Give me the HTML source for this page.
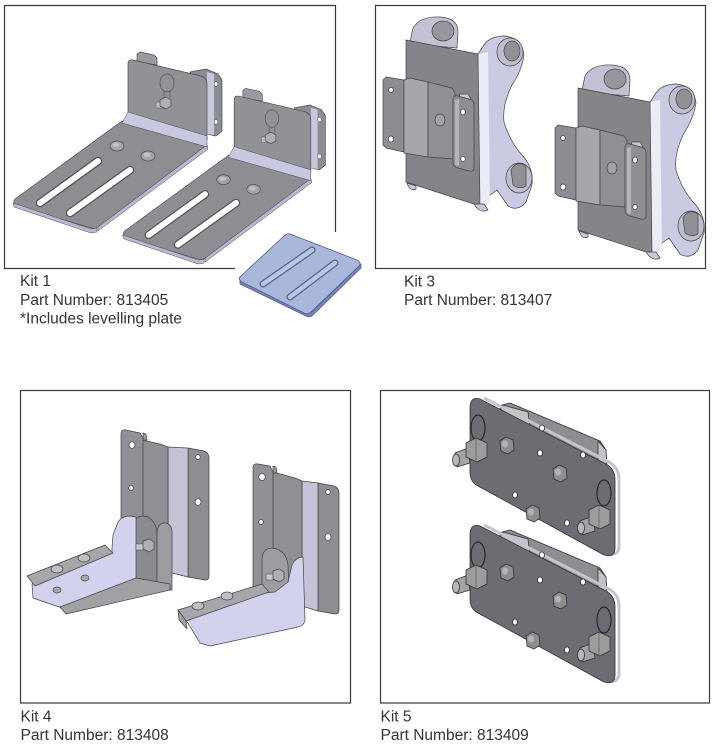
<!DOCTYPE html>
<html><head><meta charset="utf-8"><style>
html,body{margin:0;padding:0;background:#fff;}
svg{display:block;}
text{font-family:"Liberation Sans",Arial,sans-serif;font-size:15.5px;fill:#333;}
</style></head><body>
<svg width="715" height="750" viewBox="0 0 715 750" xmlns="http://www.w3.org/2000/svg">
<defs>
 <!-- Kit 1 bracket -->
 <g id="k1b" stroke="#4a4a55" stroke-width="0.7" stroke-linejoin="round">
  <path d="M190,72 L206,69 L218,74 L222,80 L222,131 L216,136 L207,134 Z" fill="#8c8c92"/>
  <path d="M207,72 L214,74 L214,135 L207,134 Z" fill="#c8c8dc" stroke="none"/>
  <ellipse cx="216" cy="84" rx="1.8" ry="2.3" fill="#fff" stroke-width=".5"/>
  <ellipse cx="216" cy="122" rx="1.8" ry="2.3" fill="#fff" stroke-width=".5"/>
  <path d="M137,62 L137,54 L140,52 L154,55 L157,58 L157,65 Z" fill="#9a9aa0"/>
  <path d="M128,116 L128,64 Q128,59 133,60 L201,76 Q207,78 207,84 L207,140 Z" fill="#919196"/>
  <path d="M15,199 L122,121 L207,145 L98,227 Q95,229 91,228 L17,206 Q12,203 15,199 Z" fill="#8d8d92"/>
  <path d="M13,203 L91,229 L97,228 L97,232 L91,233 L14,207 Z" fill="#b8b8d0" stroke-width=".5"/>
  <path d="M207,145 L98,227 L98,231 L208,149 Z" fill="#b8b8d0" stroke-width=".5"/>
  <path d="M128,112 L207,136 L207,147 L122,123 Z" fill="#c8c8e0" stroke-width=".5"/>
  <path d="M40,203 L98,161" stroke="#555" stroke-width="8.5" stroke-linecap="round"/>
  <path d="M40,203 L98,161" stroke="#fff" stroke-width="6" stroke-linecap="round"/>
  <path d="M70,213 L130,170" stroke="#555" stroke-width="8.5" stroke-linecap="round"/>
  <path d="M70,213 L130,170" stroke="#fff" stroke-width="6" stroke-linecap="round"/>
  <ellipse cx="117" cy="146" rx="7" ry="5" fill="#a4a4aa"/>
  <ellipse cx="116" cy="145" rx="3.5" ry="2.2" fill="#c0c0c8" stroke="none"/>
  <ellipse cx="148" cy="156" rx="7" ry="5" fill="#a4a4aa"/>
  <ellipse cx="147" cy="155" rx="3.5" ry="2.2" fill="#c0c0c8" stroke="none"/>
  <ellipse cx="167" cy="83" rx="7" ry="9" fill="none" stroke="#555"/>
  <path d="M164,92 L164,98 M170,92 L170,98" stroke="#555"/>
  <rect x="156" y="102" width="8" height="6" fill="#c0c0c4" stroke-width=".5"/>
  <path d="M160,100 L166,97 L171,100 L171,106 L166,109 L160,106 Z" fill="#b0b0b4"/>
 </g>
 <!-- Kit 3 bracket -->
 <g id="k3b" stroke="#444" stroke-width="0.7" stroke-linejoin="round">
  <path d="M410,42 L413,28 Q420,16 440,17 Q458,18 458,32 L457,48 L410,44 Z" fill="#c2c2d4"/>
  <ellipse cx="443" cy="31" rx="11" ry="10" fill="#96969c"/>
  <path d="M478,54 L484,45 Q490,36 505,36 Q522,38 524,55 Q522,70 512,85 Q502,105 504,122 Q510,142 522,155 Q534,168 532,185 L526,202 Q518,212 508,206 L497,190 L478,204 Z" fill="#cacae2"/>
  <path d="M478,54 L488,52 L490,204 L478,204 Z" fill="#ececf6" stroke="none"/>
  <ellipse cx="510" cy="52" rx="13" ry="14" fill="#bebece"/>
  <ellipse cx="512" cy="51" rx="8" ry="10" fill="#909096"/>
  <ellipse cx="519" cy="178" rx="13" ry="15" fill="#bebece"/>
  <path d="M511,170 Q516,160 526,166 L526,186 Q520,190 513,185 Z" fill="#909096"/>
  <path d="M406,40 L478,54 L480,206 L406,182 Z" fill="#848489"/>
  <path d="M407,183 Q410,192 416,189 L416,186 Z" fill="#c8c8dc"/>
  <path d="M474,204 Q480,214 488,210 L484,204 Z" fill="#c8c8dc"/>
  <path d="M383,80 L386,77 L404,80 L404,152 L386,148 L383,145 Z" fill="#8c8c92"/>
  <ellipse cx="391" cy="90" rx="2.3" ry="2.6" fill="#fff"/>
  <ellipse cx="391" cy="139" rx="2.8" ry="3" fill="#fff"/>
  <path d="M404,80 L410,78 L428,82 L428,157 L404,153 Z" fill="#a6a6ac"/>
  <path d="M428,82 L452,88 L455,93 L454,159 L428,157 Z" fill="#8f8f94"/>
  <ellipse cx="440" cy="120" rx="5" ry="6" fill="#a2a2a8"/>
  <path d="M458,100 L460,94 L468,94 L471,99 Z" fill="#c8c8d8"/>
  <path d="M453,100 Q453,95 458,96 L469,99 Q474,100 474,105 L474,168 Q474,172 469,171 L458,168 Q453,167 453,162 Z" fill="#8e8e93"/>
  <path d="M455,100 L459,99 L459,166 L455,165 Z" fill="#b4b4c0" stroke="none"/>
  <ellipse cx="463" cy="112" rx="2.5" ry="3" fill="#fff"/>
  <ellipse cx="463" cy="159" rx="2.2" ry="2.6" fill="#fff"/>
 </g>
 <!-- Kit 5 plate -->
 <g id="k5p" stroke="#333" stroke-width="0.8" stroke-linejoin="round">
  <path d="M498,412 L502,405 L510,403 L600,441 L606,450 L607,470 Z" fill="#8e8e92"/>
  <path d="M500,411 L503,405 L528,412 L530,428 Z" fill="#c4c4c8"/>
  <path d="M598,441 L606,450 L607,470 L598,462 Z" fill="#c4c4c8"/>
  <path d="M484,398 L609,462 Q619,468 619,479 L619,546 Q619,556 608,554" fill="none" stroke="#c4c4d0" stroke-width="3"/>
  <path d="M480,399 L606,464 Q615,469 615,480 L615,548 Q615,558 604,555 L478,486 Q470,482 470,472 L470,408 Q470,396 480,399 Z" fill="#6c6c72"/>
  <ellipse cx="478" cy="428" rx="7" ry="13" fill="none" stroke="#2a2a2a" stroke-width="1.2"/>
  <ellipse cx="604" cy="493" rx="7" ry="13" fill="none" stroke="#2a2a2a" stroke-width="1.2"/>
  <ellipse cx="542" cy="428" rx="2.5" ry="3" fill="#fff"/>
  <ellipse cx="583" cy="455" rx="2.5" ry="3" fill="#fff"/>
  <ellipse cx="540" cy="453" rx="2.5" ry="3" fill="#fff"/>
  <ellipse cx="515" cy="495" rx="2.5" ry="3" fill="#fff"/>
  <ellipse cx="567" cy="523" rx="2.5" ry="3" fill="#fff"/>
  <path d="M500,441 L506,437 L513,440 L514,450 L508,454 L501,451 Z" fill="#8e8e8e"/>
  <ellipse cx="505" cy="444" rx="3" ry="3.5" fill="#b4b4b4" stroke="none"/>
  <path d="M553,469 L559,465 L566,468 L567,478 L561,482 L554,479 Z" fill="#8e8e8e"/>
  <ellipse cx="558" cy="472" rx="3" ry="3.5" fill="#b4b4b4" stroke="none"/>
  <path d="M526,509 L532,505 L539,508 L540,518 L534,522 L527,519 Z" fill="#8e8e8e"/>
  <ellipse cx="531" cy="512" rx="3" ry="3.5" fill="#b4b4b4" stroke="none"/>
  <path d="M455,453 L468,448 L470,463 L457,467 Z" fill="#a4a4a4"/>
  <ellipse cx="456" cy="460" rx="3.5" ry="6" fill="#b8b8b8"/>
  <path d="M466,443 L476,438 L487,443 L487,457 L477,462 L466,457 Z" fill="#9c9c9c"/>
  <path d="M476,438 L476,462" stroke="#555" stroke-width=".6"/>
  <path d="M580,521 L593,516 L595,531 L582,535 Z" fill="#a4a4a4"/>
  <ellipse cx="581" cy="528" rx="3.5" ry="6" fill="#b8b8b8"/>
  <path d="M589,510 L599,505 L610,510 L610,524 L600,529 L589,524 Z" fill="#9c9c9c"/>
  <path d="M599,505 L599,529" stroke="#555" stroke-width=".6"/>
 </g>
</defs>

<!-- Box outlines -->
<path d="M235,268.5 H4.5 V5.5 H335.5 V232" fill="none" stroke="#3a3a3a" stroke-width="1.2"/>
<rect x="375.5" y="5.5" width="330" height="263" fill="none" stroke="#3a3a3a" stroke-width="1.2"/>
<rect x="20.5" y="390.5" width="330" height="312.5" fill="none" stroke="#3a3a3a" stroke-width="1.2"/>
<rect x="380.5" y="390.5" width="329" height="312.5" fill="none" stroke="#3a3a3a" stroke-width="1.2"/>

<!-- Kit 1 -->
<use href="#k1b"/>
<use href="#k1b" transform="translate(110,38) scale(0.97)"/>
<!-- levelling plate -->
<g stroke="#4f5e88" stroke-width="0.8" stroke-linejoin="round">
 <path d="M240,284 L306,316 Q310,318 313,315 L361,268 L361,264 L313,311 Q310,314 306,312 L240,280 Z" fill="#7888b4"/>
 <path d="M290,234 L357,260 Q362,263 359,266 L311,312 Q308,315 304,313 L242,282 Q237,279 241,276 L284,236 Q287,233 290,234 Z" fill="#a9b7da"/>
 <path d="M312,250 L263,284" stroke="#55648e" stroke-width="7" stroke-linecap="round"/>
 <path d="M312,250 L263,284" stroke="#b9c6e4" stroke-width="4.5" stroke-linecap="round"/>
 <path d="M335,263 L290,297" stroke="#55648e" stroke-width="7" stroke-linecap="round"/>
 <path d="M335,263 L290,297" stroke="#b9c6e4" stroke-width="4.5" stroke-linecap="round"/>
</g>

<!-- Kit 3 -->
<use href="#k3b"/>
<use href="#k3b" transform="translate(172,48)"/>

<!-- Kit 4 bracket A -->
<g stroke="#444" stroke-width="0.7" stroke-linejoin="round">
 <path d="M188,448 L204,451 Q209,453 209,458 L209,576 Q209,580 205,580 L188,577 Z" fill="#8d8d92"/>
 <ellipse cx="198" cy="457" rx="2.2" ry="2.5" fill="#fff"/>
 <ellipse cx="198" cy="502" rx="3" ry="3.3" fill="#fff"/>
 <path d="M168,447 L188,448 L188,577 L168,572 Z" fill="#c4c4d6"/>
 <path d="M142,440 L160,444 L168,447 L168,575 L142,570 Z" fill="#8f8f94"/>
 <path d="M143,433 L146,434 L147,440 L143,440 Z" fill="#9a9aa0"/>
 <path d="M121,434 Q121,429 126,430 L140,433 L143,438 L143,522 L121,522 Z" fill="#909095"/>
 <ellipse cx="132" cy="445" rx="3" ry="3.3" fill="#fff"/>
 <ellipse cx="131" cy="488" rx="2.3" ry="2.6" fill="#fff"/>
 <path d="M135,520 Q140,514 148,517 Q156,522 157,532 L157,588 L135,590 Z" fill="#8a8a8f"/>
 <path d="M157,532 Q158,522 166,523 Q172,525 172,532 L172,590 L157,590 Z" fill="#9c9ca1"/>
 <path d="M32,584 L112,552 Q112,545 113,535 L118,522 Q122,516 130,516 L136,517 L136,580 L62,608 L33,598 Z" fill="#d2d2ee"/>
 <path d="M27,576 L105,545 L113,553 L35,586 Z" fill="#a6a6ab"/>
 <path d="M60,607 L136,578 L170,584 L170,590 L66,614 Z" fill="#a0a0a5"/>
 <ellipse cx="57" cy="569" rx="6" ry="4" fill="#c0c0c4"/>
 <ellipse cx="84" cy="558" rx="6" ry="4" fill="#c0c0c4"/>
 <ellipse cx="57" cy="590" rx="4" ry="3" fill="#a8a8ac"/>
 <ellipse cx="85" cy="578" rx="4" ry="3" fill="#a8a8ac"/>
 <rect x="136" y="544" width="8" height="6" fill="#c8c8cc" stroke-width=".5"/>
 <path d="M143,541 L149,539 L154,542 L154,549 L149,552 L143,549 Z" fill="#b0b0b4"/>
</g>
<!-- Kit 4 bracket B -->
<g stroke="#444" stroke-width="0.7" stroke-linejoin="round">
 <path d="M318,483 L334,486 Q339,488 339,493 L339,610 Q339,614 335,614 L318,611 Z" fill="#8d8d92"/>
 <ellipse cx="328" cy="492" rx="2.2" ry="2.5" fill="#fff"/>
 <ellipse cx="328" cy="537" rx="3" ry="3.3" fill="#fff"/>
 <path d="M302,481 L318,483 L318,611 L302,606 Z" fill="#c4c4d6"/>
 <path d="M273,472 L295,478 L302,481 L302,606 L273,600 Z" fill="#8f8f94"/>
 <path d="M273,466 L276,467 L277,473 L273,473 Z" fill="#9a9aa0"/>
 <path d="M253,468 Q253,463 258,464 L270,466 L273,472 L273,600 L253,597 Z" fill="#909095"/>
 <ellipse cx="262" cy="477" rx="3.2" ry="3.5" fill="#fff"/>
 <ellipse cx="261" cy="522" rx="2.3" ry="2.6" fill="#fff"/>
 <path d="M262,560 Q262,548 273,548 Q286,550 288,565 L290,615 L262,622 Z" fill="#9c9ca1"/>
 <rect x="266" y="574" width="8" height="6" fill="#c8c8cc" stroke-width=".5"/>
 <path d="M273,571 L279,569 L284,572 L284,579 L279,582 L273,579 Z" fill="#b0b0b4"/>
 <path d="M186,620 L262,593 L275,592 L288,582 L292,565 Q296,557 303,557 L305,620 Q304,626 298,627 L210,646 L200,643 Z" fill="#d2d2ee"/>
 <path d="M178,610 L262,584 L269,592 L186,621 Z" fill="#a6a6ab"/>
 <path d="M178,610 L186,621 L187,629 L179,620 Z" fill="#a0a0a5"/>
 <ellipse cx="198" cy="606" rx="6" ry="4" fill="#c0c0c4"/>
 <ellipse cx="227" cy="596" rx="6" ry="4" fill="#c0c0c4"/>
</g>

<!-- Kit 5 -->
<use href="#k5p"/>
<use href="#k5p" transform="translate(0,127)"/>

<!-- Labels -->
<text x="20" y="286">Kit 1</text>
<text x="20" y="305">Part Number: 813405</text>
<text x="20" y="323.5">*Includes levelling plate</text>
<text x="404" y="286.5">Kit 3</text>
<text x="404" y="305">Part Number: 813407</text>
<text x="20.5" y="721.5">Kit 4</text>
<text x="20.5" y="740">Part Number: 813408</text>
<text x="380.5" y="721.5">Kit 5</text>
<text x="380.5" y="740">Part Number: 813409</text>
</svg>
</body></html>
